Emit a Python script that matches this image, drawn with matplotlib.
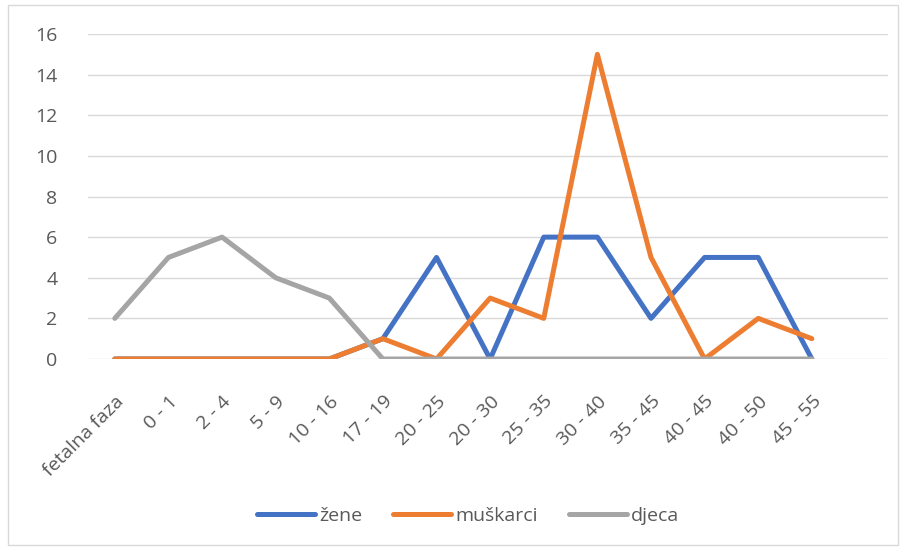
import matplotlib
matplotlib.use("Agg")
import matplotlib.pyplot as plt
from matplotlib.patches import Rectangle

categories = ["fetalna faza", "0 - 1", "2 - 4", "5 - 9", "10 - 16", "17 - 19", "20 - 25",
              "20 - 30", "25 - 35", "30 - 40", "35 - 45", "40 - 45", "40 - 50", "45 - 55"]
zene = [0, 0, 0, 0, 0, 1, 5, 0, 6, 6, 2, 5, 5, 0]
muskarci = [0, 0, 0, 0, 0, 1, 0, 3, 2, 15, 5, 0, 2, 1]
djeca = [2, 5, 6, 4, 3, 0, 0, 0, 0, 0, 0, 0, 0, 0]
yticks = [0, 2, 4, 6, 8, 10, 12, 14, 16]

plt.rcParams['font.family'] = ['Open Sans', 'DejaVu Sans']

fig = plt.figure(figsize=(9.09, 5.5), dpi=100)
fig.patches.append(Rectangle((8/909, 5/550), 890/909, 540/550, transform=fig.transFigure,
                             fill=False, edgecolor='#d9d9d9', linewidth=1))
ax = fig.add_axes([88/909, 1-359/550, 800/909, 325/550])

x = list(range(len(categories)))
kw = dict(lw=3.6, solid_joinstyle='round', solid_capstyle='round')
ax.plot(x, zene, color='#4472c4', label='žene', zorder=3, **kw)
ax.plot(x, muskarci, color='#ed7d31', label='muškarci', zorder=4, **kw)
ax.plot(x, djeca, color='#a5a5a5', label='djeca', zorder=5, **kw)

ax.set_ylim(0, 16)
ax.set_xlim(-0.5, 14.42)
ax.set_yticks(yticks)
ax.set_xticks(x)
ax.set_xticklabels(categories, rotation=45, ha='right', va='top', rotation_mode='anchor')
ax.grid(axis='y', color='#d9d9d9', lw=1)
ax.set_axisbelow(True)
for s in ax.spines.values():
    s.set_visible(False)
ax.tick_params(axis='both', length=0, labelsize=14, colors='#595959')
ax.tick_params(axis='y', pad=22)
ax.tick_params(axis='x', pad=24)

leg = fig.legend(loc='center', bbox_to_anchor=(468/909, 1-516/550), ncol=3, frameon=False,
                 fontsize=14, handlelength=3.0, columnspacing=1.6, handletextpad=0.2)
for t in leg.get_texts():
    t.set_color('#595959')

fig.savefig('out.png', dpi=100)
